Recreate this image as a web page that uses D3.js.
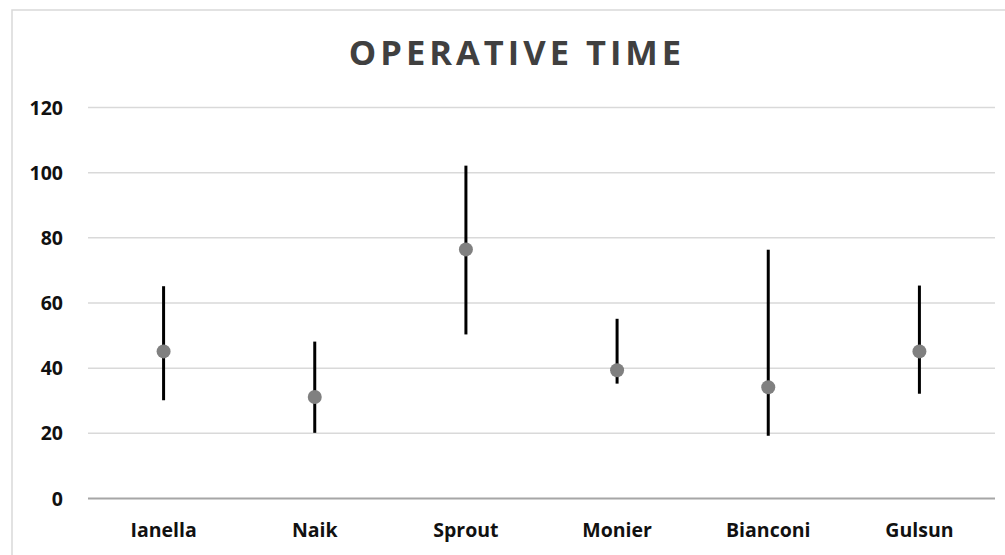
<!DOCTYPE html>
<html>
<head>
<meta charset="utf-8">
<script src="https://cdn.jsdelivr.net/npm/d3@7"></script>
<style>
  html, body { margin: 0; padding: 0; background: #fff; }
  svg { display: block; }
</style>
</head>
<body>
<svg id="chart" width="1005" height="555"></svg>
<script>
const categories = ["Ianella", "Naik", "Sprout", "Monier", "Bianconi", "Gulsun"];
const means = [45, 31, 76.3, 39.2, 34, 45];
const lows = [30, 20, 50.2, 35.1, 19.1, 32];
const highs = [65, 48, 102, 55, 76.2, 65.2];
const yTicks = [0, 20, 40, 60, 80, 100, 120];
const title = "OPERATIVE TIME";

const data = categories.map((c, i) => ({ cat: c, mean: means[i], lo: lows[i], hi: highs[i] }));

const svg = d3.select("#chart");
const W = 1005, H = 555;
const plot = { left: 88, right: 995, top: 107, bottom: 498 };

// chart border
svg.append("rect")
  .attr("x", 12).attr("y", 10)
  .attr("width", W + 20).attr("height", H + 20)
  .attr("fill", "none").attr("stroke", "#d9d9d9").attr("stroke-width", 1.5);

const x = d3.scaleBand().domain(categories).range([plot.left, plot.right]);
const y = d3.scaleLinear().domain([0, 120]).range([plot.bottom, plot.top]);

// gridlines
const grid = svg.append("g").attr("transform", `translate(${plot.left},0)`)
  .call(d3.axisLeft(y).tickValues(yTicks).tickSize(-(plot.right - plot.left)).tickFormat(""));
grid.select(".domain").remove();
grid.selectAll(".tick line")
  .attr("stroke", d => d === 0 ? "#a6a6a6" : "#d9d9d9")
  .attr("stroke-width", d => d === 0 ? 2 : 1.5);

// y labels
const yAxis = svg.append("g").attr("transform", `translate(63,0)`)
  .call(d3.axisLeft(y).tickValues(yTicks).tickSize(0).tickPadding(0));
yAxis.select(".domain").remove();
yAxis.selectAll("text")
  .attr("font-family", "'Open Sans', sans-serif")
  .attr("font-weight", "bold")
  .attr("font-size", "19.5px")
  .attr("fill", "#111")
  .attr("dy", "0.36em");

// x labels
const xAxis = svg.append("g").attr("transform", `translate(0,${plot.bottom})`)
  .call(d3.axisBottom(x).tickSize(0).tickPadding(0));
xAxis.select(".domain").remove();
xAxis.selectAll("text")
  .attr("font-family", "'Open Sans', sans-serif")
  .attr("font-weight", "bold")
  .attr("font-size", "19.5px")
  .attr("fill", "#111")
  .attr("dy", "0")
  .attr("y", 39);

// error bars
svg.append("g").selectAll("line").data(data).join("line")
  .attr("x1", d => x(d.cat) + x.bandwidth() / 2)
  .attr("x2", d => x(d.cat) + x.bandwidth() / 2)
  .attr("y1", d => y(d.lo))
  .attr("y2", d => y(d.hi))
  .attr("stroke", "#000").attr("stroke-width", 3);

// points
svg.append("g").selectAll("circle").data(data).join("circle")
  .attr("cx", d => x(d.cat) + x.bandwidth() / 2)
  .attr("cy", d => y(d.mean))
  .attr("r", 7)
  .attr("fill", "#808080");

// title
svg.append("text")
  .attr("x", 517).attr("y", 65)
  .attr("text-anchor", "middle")
  .attr("font-family", "'Open Sans', sans-serif")
  .attr("font-weight", "bold")
  .attr("font-size", "34.5px")
  .attr("letter-spacing", "4px")
  .attr("fill", "#404040")
  .text(title);
</script>
</body>
</html>
